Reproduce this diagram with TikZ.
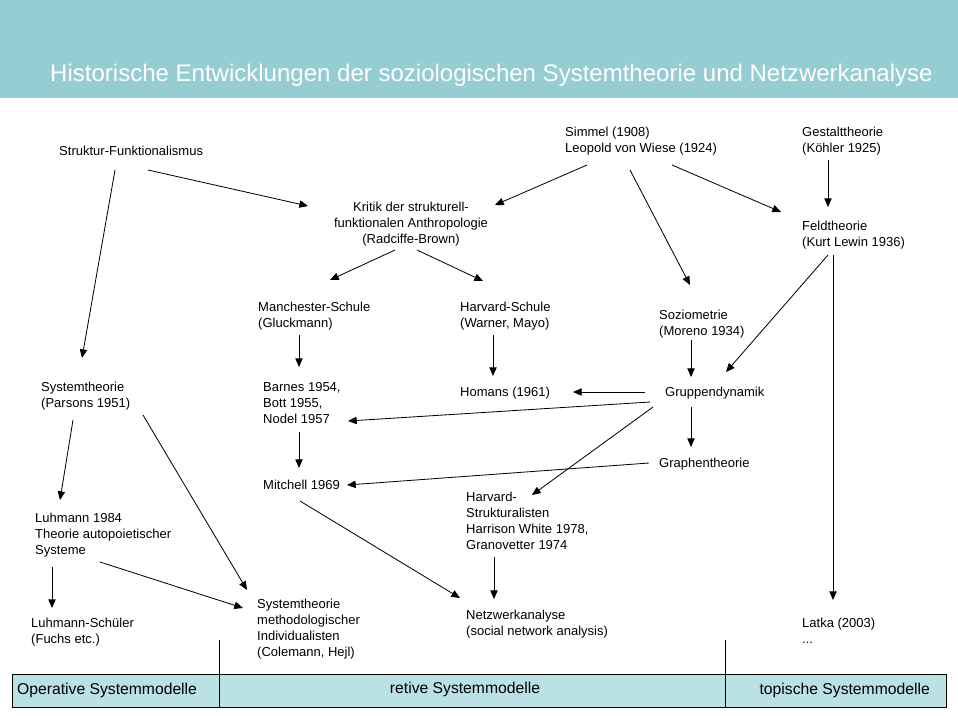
\documentclass[tikz,border=0pt]{standalone}
\usepackage{fontspec}
\setmainfont{Liberation Sans}
\usetikzlibrary{arrows.meta}
\definecolor{headteal}{HTML}{96CDD2}
\definecolor{barteal}{HTML}{BAE1E4}

\begin{document}
\begin{tikzpicture}[
  x=0.03cm, y=-0.03cm,
  >={Triangle[length=2.6mm, width=2.2mm]},
  stage/.style={anchor=north west, align=left, inner sep=0pt,
                font=\fontsize{11.1}{13.66}\selectfont},
  flow/.style={->, line width=0.7pt, draw=black},
  zone/.style={inner sep=0pt, font=\fontsize{13.4}{16}\selectfont},
]
\useasboundingbox (0,0) rectangle (958,715);

% ---- header band ----
\fill[headteal] (0,0) rectangle (958,98);
\node[anchor=west, inner sep=0pt, text=white, font=\fontsize{20.5}{24}\selectfont] (title) at (50,75)
      {Historische Entwicklungen der soziologischen Systemtheorie und Netzwerkanalyse};

% ---- stages (text only, placed by their top left corner) ----
\node[stage] (struk)   at (59,146)  {Struktur-Funktionalismus};
\node[stage, anchor=north, align=center] (kritik) at (411,202)
      {Kritik der strukturell-\\funktionalen Anthropologie\\(Radciffe-Brown)};
\node[stage] (simmel)  at (565,127) {Simmel (1908)\\Leopold von Wiese (1924)};
\node[stage] (gestalt) at (802,127) {Gestalttheorie\\(Köhler 1925)};
\node[stage] (feld)    at (802,221) {Feldtheorie\\(Kurt Lewin 1936)};
\node[stage] (manch)   at (258,302) {Manchester-Schule\\(Gluckmann)};
\node[stage] (harvS)   at (460,302) {Harvard-Schule\\(Warner, Mayo)};
\node[stage] (sozio)   at (659,310) {Soziometrie\\(Moreno 1934)};
\node[stage] (parsons) at (41,382)  {Systemtheorie\\(Parsons 1951)};
\node[stage] (barnes)  at (263,382) {Barnes 1954,\\Bott 1955,\\Nodel 1957};
\node[stage] (homans)  at (460,387) {Homans (1961)};
\node[stage] (gruppe)  at (665,387) {Gruppendynamik};
\node[stage] (graph)   at (659,458) {Graphentheorie};
\node[stage] (mitchell) at (263,480) {Mitchell 1969};
\node[stage] (harvStr) at (466,492) {Harvard-\\Strukturalisten\\Harrison White 1978,\\Granovetter 1974};
\node[stage] (luhmann) at (35,513)  {Luhmann 1984\\Theorie autopoietischer\\Systeme};
\node[stage] (schueler) at (31,618) {Luhmann-Schüler\\(Fuchs etc.)};
\node[stage] (methind) at (257,599) {Systemtheorie\\methodologischer\\Individualisten\\(Colemann, Hejl)};
\node[stage] (netz)    at (466,610) {Netzwerkanalyse\\(social network analysis)};
\node[stage] (latka)   at (802,618) {Latka (2003)\\...};

% ---- influences ----
\draw[flow] ([shift={(89,24)}]struk.north west)  -- ([shift={(-103,4)}]kritik.north);
\draw[flow] ([shift={(56,24)}]struk.north west)  -- ([shift={(41,-24)}]parsons.north west);
\draw[flow] ([shift={(22,38)}]simmel.north west) -- ([shift={(84,3)}]kritik.north);
\draw[flow] ([shift={(65,43)}]simmel.north west) -- ([shift={(31,-25)}]sozio.north west);
\draw[flow] ([shift={(107,38)}]simmel.north west) -- ([shift={(-21,-9)}]feld.north west);
\draw[flow] ([shift={(26,33)}]gestalt.north west) -- ([shift={(26,-14)}]feld.north west);
\draw[flow] ([shift={(-16,48)}]kritik.north) -- ([shift={(72,-22)}]manch.north west);
\draw[flow] ([shift={(6,48)}]kritik.north)   -- ([shift={(23,-21)}]harvS.north west);
\draw[flow] ([shift={(41,33)}]manch.north west) -- ([shift={(36,-15)}]barnes.north west);
\draw[flow] ([shift={(33,33)}]harvS.north west) -- ([shift={(33,-11)}]homans.north west);
\draw[flow] ([shift={(32,30)}]sozio.north west) -- ([shift={(26,-10)}]gruppe.north west);
\draw[flow] ([shift={(26,34)}]feld.north west)  -- ([shift={(61,-15)}]gruppe.north west);
\draw[flow] ([shift={(31,34)}]feld.north west)  -- ([shift={(31,-18)}]latka.north west);

% ---- from Gruppendynamik ----
\draw[flow] ([shift={(-20,5)}]gruppe.north west)  -- ([shift={(113,5)}]homans.north west);
\draw[flow] ([shift={(-15,15)}]gruppe.north west) -- ([shift={(85,39)}]barnes.north west);
\draw[flow] ([shift={(-12,20)}]gruppe.north west) -- ([shift={(66,3)}]harvStr.north west);
\draw[flow] ([shift={(26,20)}]gruppe.north west)  -- ([shift={(32,-11)}]graph.north west);
\draw[flow] ([shift={(-10,5)}]graph.north west)   -- ([shift={(84,5)}]mitchell.north west);

% ---- towards network analysis ----
\draw[flow] ([shift={(36,50)}]barnes.north west)  -- ([shift={(36,-12)}]mitchell.north west);
\draw[flow] ([shift={(37,21)}]mitchell.north west) -- ([shift={(-6,-12)}]netz.north west);
\draw[flow] ([shift={(28,65)}]harvStr.north west) -- ([shift={(28,-11)}]netz.north west);

% ---- systems theory branch ----
\draw[flow] ([shift={(32,38)}]parsons.north west)  -- ([shift={(25,-13)}]luhmann.north west);
\draw[flow] ([shift={(102,33)}]parsons.north west) -- ([shift={(-10,-9)}]methind.north west);
\draw[flow] ([shift={(17,54)}]luhmann.north west)  -- ([shift={(21,-10)}]schueler.north west);
\draw[flow] ([shift={(65,49)}]luhmann.north west)  -- ([shift={(-14,9)}]methind.north west);

% ---- model bar ----
\draw[line width=0.7pt, fill=barteal] (12,674) rectangle (946,707);
\draw[line width=0.7pt] (219,640) -- (219,707);
\draw[line width=0.7pt] (725,640) -- (725,707);
\node[zone, anchor=west] (operativ) at (17,690)  {Operative Systemmodelle};
\node[zone]              (retiv)    at (465,689) {retive Systemmodelle};
\node[zone, anchor=east] (topisch)  at (930,690) {topische Systemmodelle};
\end{tikzpicture}
\end{document}
